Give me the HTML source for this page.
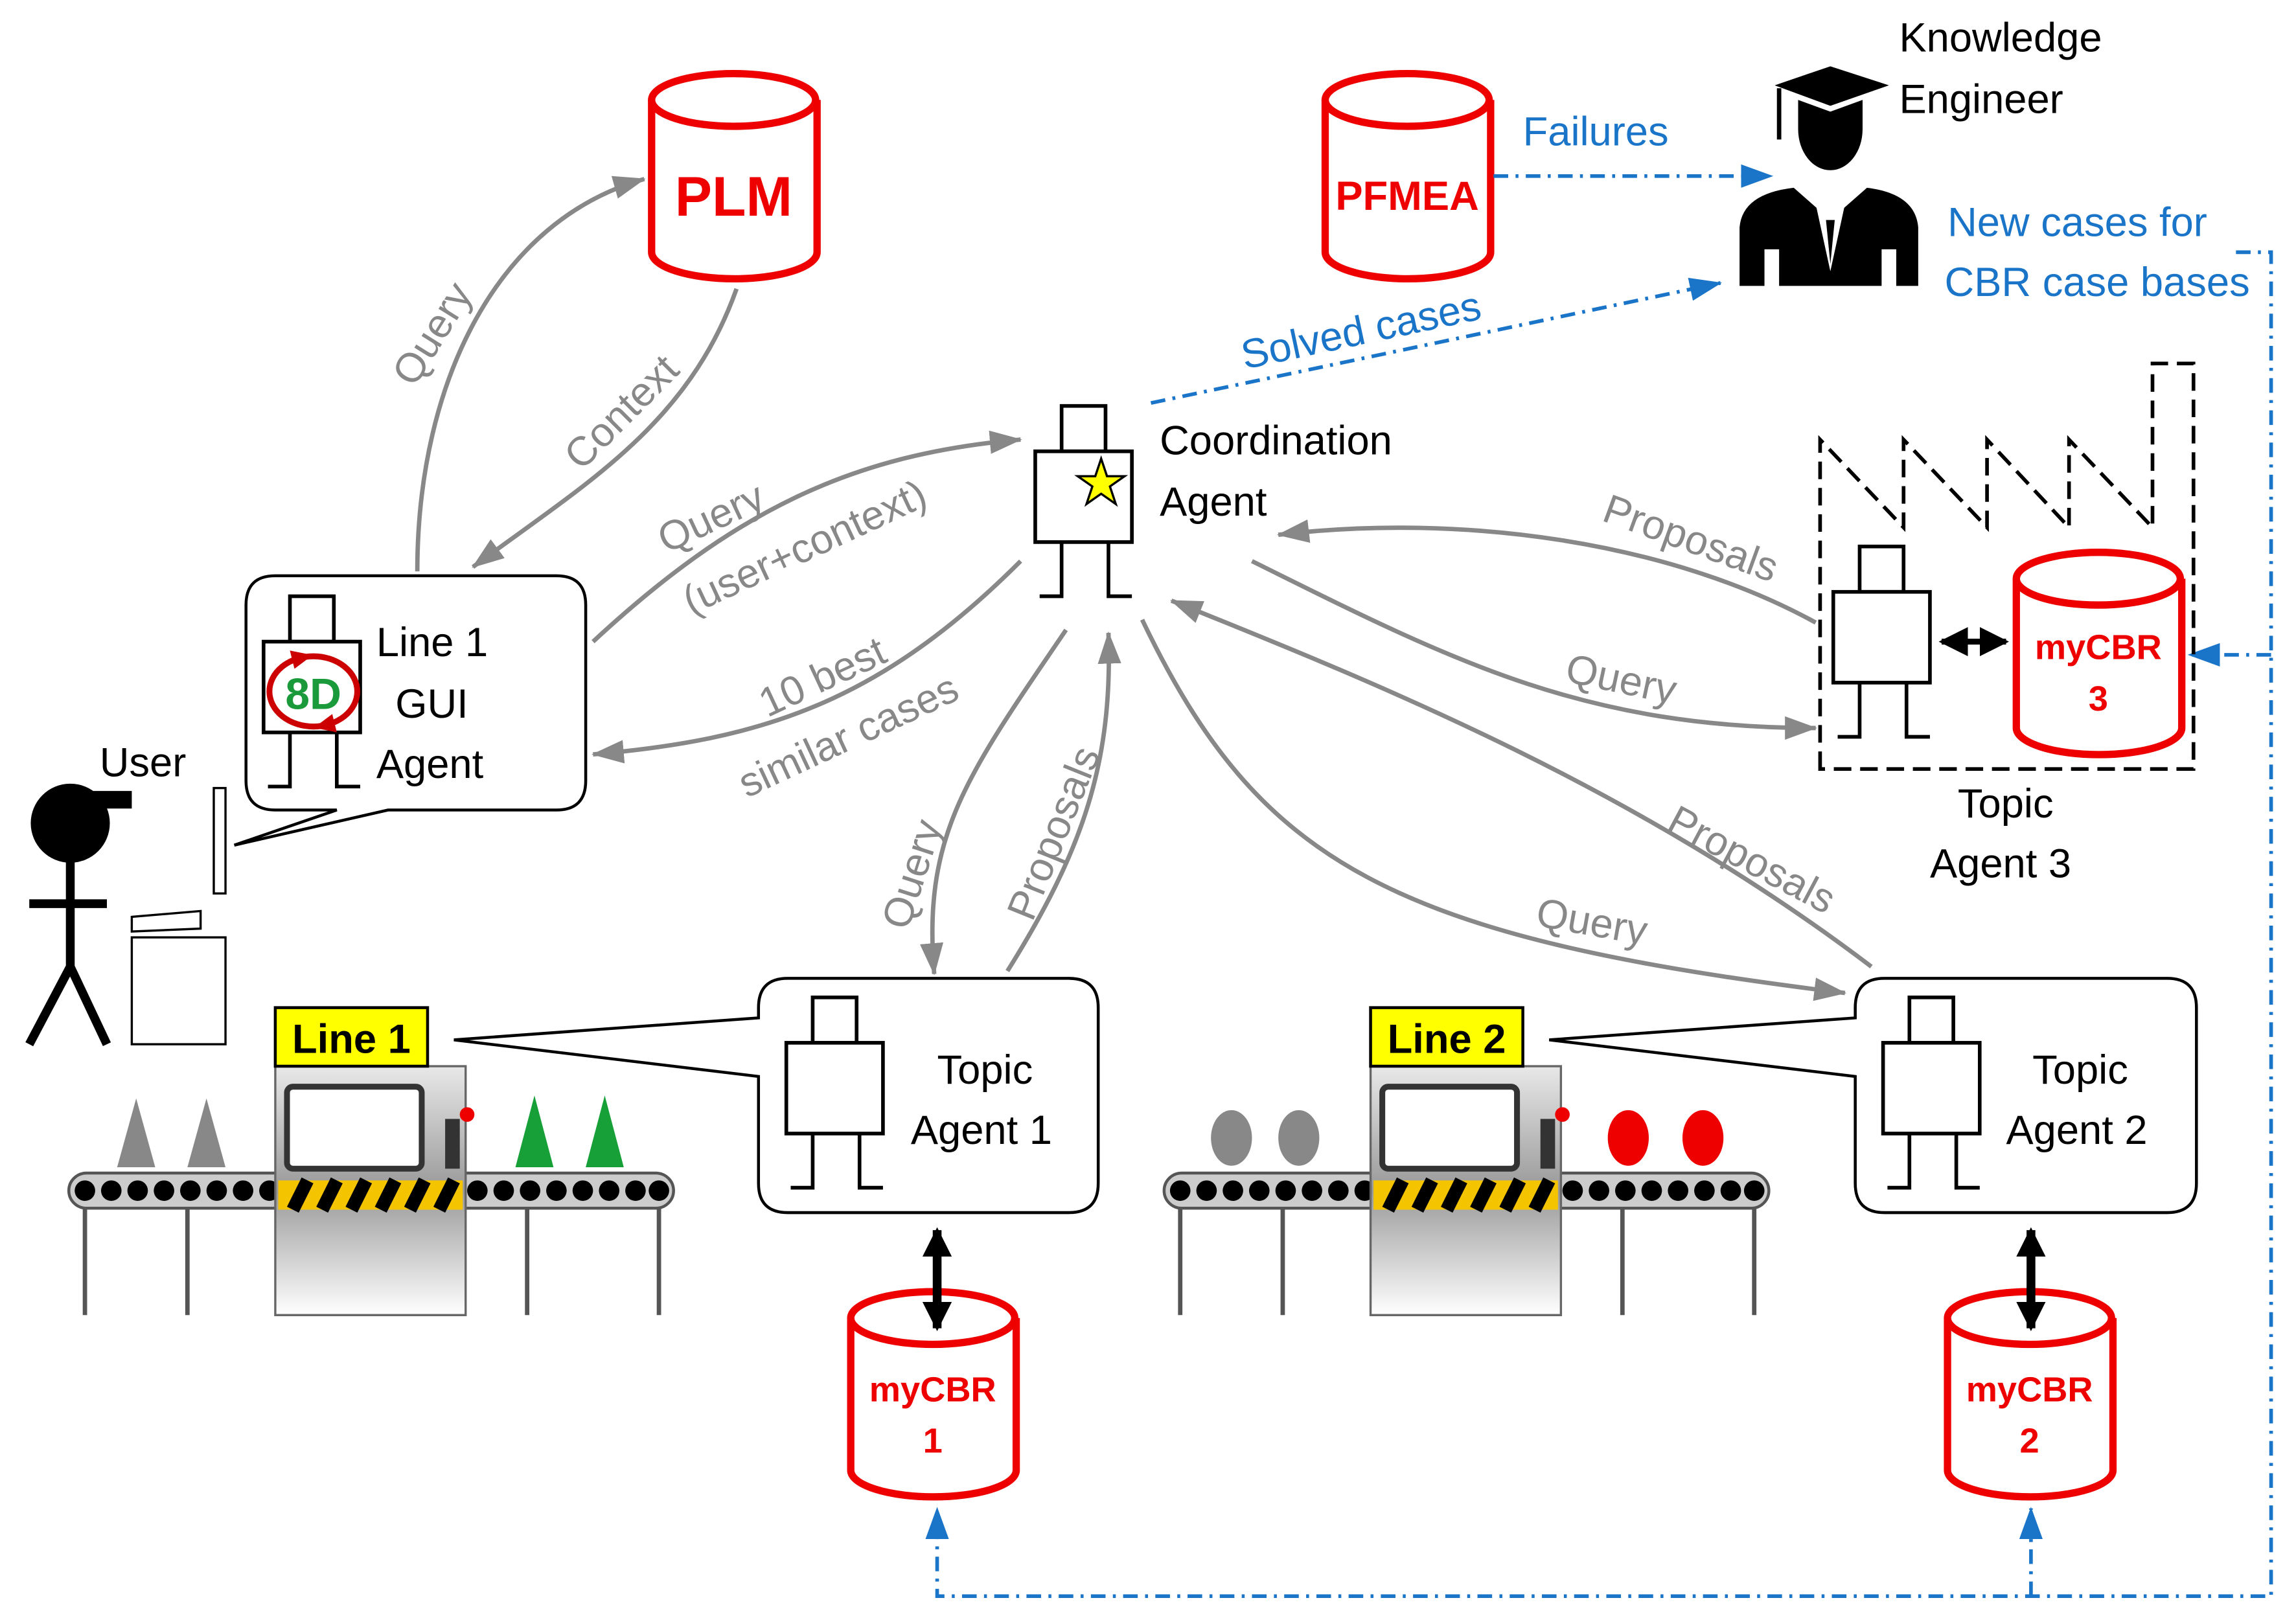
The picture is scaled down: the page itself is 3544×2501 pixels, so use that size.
<!DOCTYPE html>
<html><head><meta charset="utf-8"><style>
html,body{margin:0;padding:0;background:#fff}
svg{display:block}
text{font-family:"Liberation Sans",sans-serif}
</style></head><body>
<svg width="3544" height="2501" viewBox="0 0 1568 1106" xmlns="http://www.w3.org/2000/svg">
<defs>
<marker id="agb" markerWidth="22" markerHeight="16" refX="21" refY="8" orient="auto" markerUnits="userSpaceOnUse" viewBox="0 0 22 16"><path d="M0,0L22,8L0,16z" fill="#888"/></marker>
<marker id="ab" markerWidth="22" markerHeight="16" refX="21" refY="8" orient="auto" markerUnits="userSpaceOnUse" viewBox="0 0 22 16"><path d="M0,0L22,8L0,16z" fill="#1a75c9"/></marker>
<marker id="ak" markerWidth="20" markerHeight="20" refX="18" refY="10" orient="auto" markerUnits="userSpaceOnUse" viewBox="0 0 20 20"><path d="M0,0L20,10L0,20z" fill="#000"/></marker>
<marker id="akr" markerWidth="20" markerHeight="20" refX="2" refY="10" orient="auto" markerUnits="userSpaceOnUse" viewBox="0 0 20 20"><path d="M20,0L0,10L20,20z" fill="#000"/></marker>
<linearGradient id="mg" x1="0" y1="0" x2="0" y2="1"><stop offset="0" stop-color="#e8e8e8"/><stop offset="0.5" stop-color="#999"/><stop offset="1" stop-color="#fff"/></linearGradient>
<g id="robot" fill="#fff" stroke="#000" stroke-width="2.5">
<rect x="18" y="0" width="30" height="31"/><rect x="0" y="31" width="66" height="62"/>
<path d="M18,93V130H3M50,93V130H66" fill="none"/>
</g>
<g id="conv">
<rect x="0" y="0" width="413" height="24" rx="12" fill="#ccc" stroke="#555" stroke-width="2"/>
</g>
</defs>

<g fill="#fff" stroke="#e00" stroke-width="5">
<path d="M445,68V172A56,18 0 0 0 558,172V68"/><ellipse cx="501" cy="68" rx="56" ry="18"/>
<path d="M905,68V172A56,18 0 0 0 1018,172V68"/><ellipse cx="961" cy="68" rx="56" ry="18"/>
<path d="M1377,395V497A56,18 0 0 0 1490,497V395"/><ellipse cx="1433" cy="395" rx="56" ry="18"/>
<path d="M581,900V1004A56,18 0 0 0 694,1004V900"/><ellipse cx="637" cy="900" rx="56" ry="18"/>
<path d="M1330,900V1004A56,18 0 0 0 1443,1004V900"/><ellipse cx="1386" cy="900" rx="56" ry="18"/>
</g>
<g fill="#e00" font-weight="bold" text-anchor="middle">
<text x="501" y="147" font-size="38">PLM</text>
<text x="961" y="143" font-size="28">PFMEA</text>
<text x="1433" y="450" font-size="24">myCBR</text><text x="1433" y="485" font-size="24">3</text>
<text x="637" y="957" font-size="24">myCBR</text><text x="637" y="992" font-size="24">1</text>
<text x="1386" y="957" font-size="24">myCBR</text><text x="1386" y="992" font-size="24">2</text>
</g>

<g fill="#000">
<path d="M1212,58L1250,45L1290,58L1250,72z"/><path d="M1215,60V95" stroke="#000" stroke-width="3"/>
<path d="M1228,68V88A22,28 0 0 0 1272,88V68L1250,76z"/>
<path d="M1188,195V155Q1190,132 1225,128L1250,150L1275,128Q1308,132 1310,155V195H1295V170H1285V195H1215V170H1205V195z"/>
</g>
<path d="M1238,130L1250,185L1262,130" fill="#fff"/>
<path d="M1247,150L1250,180L1253,150z" fill="#000"/>
<text x="1297" y="35" font-size="28">Knowledge</text>
<text x="1297" y="77" font-size="28">Engineer</text>

<g fill="#1a75c9" font-size="28">
<text x="1040" y="99">Failures</text>
<text x="1330" y="161">New cases for</text>
<text x="1328" y="202">CBR case bases</text>
<text x="850" y="252" transform="rotate(-12 850 252)">Solved cases</text>
</g>
<g fill="none" stroke="#1a75c9" stroke-width="2.5" stroke-dasharray="10,5,2,5">
<path d="M1020,120H1210" marker-end="url(#ab)"/>
<path d="M786,275L1175,193" marker-end="url(#ab)"/>
<path d="M1527,172H1551V1090H640V1030" marker-end="url(#ab)"/>
<path d="M1387,1090V1030" marker-end="url(#ab)"/>
<path d="M1551,447H1495" marker-end="url(#ab)"/>
</g>

<path d="M1243,525V300L1300,360V300L1357,360V300L1413,360V300L1470,360V248H1498V525z" fill="none" stroke="#000" stroke-width="2.5" stroke-dasharray="12,6"/>

<use href="#robot" x="707" y="277"/>
<path d="M752,313L756,325L768,325L758,332L762,344L752,337L742,344L746,332L736,325L748,325z" fill="#ff0" stroke="#000" stroke-width="1.5"/>
<text x="792" y="310" font-size="28">Coordination</text>
<text x="792" y="352" font-size="28">Agent</text>
<use href="#robot" x="1252" y="373"/>
<path d="M1326,438H1370" stroke="#000" stroke-width="4" marker-end="url(#ak)" marker-start="url(#akr)"/>
<text x="1337" y="558" font-size="28">Topic</text>
<text x="1318" y="599" font-size="28">Agent 3</text>

<g fill="#fff" stroke="#000" stroke-width="2">
<path d="M188,393H380Q400,393 400,413V533Q400,553 380,553H265L160,577L230,553H188Q168,553 168,533V413Q168,393 188,393z"/>
<path d="M538,668H730Q750,668 750,688V808Q750,828 730,828H538Q518,828 518,808V735L310,710L518,695V688Q518,668 538,668z"/>
<path d="M1287,668H1480Q1500,668 1500,688V808Q1500,828 1480,828H1287Q1267,828 1267,808V735L1058,710L1267,695V688Q1267,668 1287,668z"/>
</g>
<use href="#robot" x="180" y="407"/>
<ellipse cx="214" cy="472" rx="30" ry="24" fill="none" stroke="#c00" stroke-width="4"/>
<path d="M200,446L210,448L202,454z M228,498L218,496L226,490z" fill="#c00" stroke="#c00" stroke-width="3"/>
<text x="214" y="484" font-size="30" font-weight="bold" fill="#1a9a3a" text-anchor="middle">8D</text>
<text x="257" y="448" font-size="28">Line 1</text>
<text x="270" y="490" font-size="28">GUI</text>
<text x="257" y="531" font-size="28">Agent</text>
<use href="#robot" x="537" y="681"/>
<text x="640" y="740" font-size="28">Topic</text>
<text x="622" y="781" font-size="28">Agent 1</text>
<use href="#robot" x="1286" y="681"/>
<text x="1388" y="740" font-size="28">Topic</text>
<text x="1370" y="781" font-size="28">Agent 2</text>

<path d="M640,840V907" stroke="#000" stroke-width="6" marker-end="url(#ak)" marker-start="url(#akr)"/>
<path d="M1387,840V907" stroke="#000" stroke-width="6" marker-end="url(#ak)" marker-start="url(#akr)"/>

<circle cx="48" cy="562" r="27" fill="#000"/>
<path d="M48,540H90V552H60z" fill="#000"/>
<path d="M48,585V660M20,617H73M48,660L20,713M48,660L73,713" stroke="#000" stroke-width="6" fill="none"/>
<text x="68" y="530" font-size="28">User</text>
<rect x="146" y="538" width="8" height="72" fill="#fff" stroke="#000" stroke-width="1.5"/>
<path d="M90,626L137,622V634L90,636z" fill="#fff" stroke="#000" stroke-width="1.5"/>
<rect x="90" y="640" width="64" height="73" fill="#fff" stroke="#000" stroke-width="1.5"/>

<g>
<path d="M58,825V898M128,825V898M360,825V898M450,825V898" stroke="#555" stroke-width="3"/>
<use href="#conv" x="47" y="801"/>
<g fill="#000"><circle cx="58" cy="813" r="7"/><circle cx="76" cy="813" r="7"/><circle cx="94" cy="813" r="7"/><circle cx="112" cy="813" r="7"/><circle cx="130" cy="813" r="7"/><circle cx="148" cy="813" r="7"/><circle cx="166" cy="813" r="7"/><circle cx="184" cy="813" r="7"/><circle cx="326" cy="813" r="7"/><circle cx="344" cy="813" r="7"/><circle cx="362" cy="813" r="7"/><circle cx="380" cy="813" r="7"/><circle cx="398" cy="813" r="7"/><circle cx="416" cy="813" r="7"/><circle cx="434" cy="813" r="7"/><circle cx="450" cy="813" r="7"/></g>
<rect x="188" y="728" width="130" height="170" fill="url(#mg)" stroke="#666" stroke-width="1.5"/>
<rect x="196" y="742" width="92" height="56" rx="4" fill="#fff" stroke="#333" stroke-width="4"/>
<rect x="190" y="806" width="126" height="20" fill="#f5c400"/>
<path d="M200,826L210,806M220,826L230,806M240,826L250,806M260,826L270,806M280,826L290,806M300,826L310,806" stroke="#000" stroke-width="9"/>
<rect x="304" y="764" width="10" height="34" fill="#333"/><circle cx="319" cy="761" r="5" fill="#e00"/>
<rect x="188" y="688" width="104" height="40" fill="#ff0" stroke="#000" stroke-width="2"/>
<text x="240" y="719" font-size="28" font-weight="bold" text-anchor="middle">Line 1</text>
</g>
<path d="M80,797L93,750L106,797zM128,797L141,750L154,797z" fill="#888"/>
<path d="M352,797L365,748L378,797zM400,797L413,748L426,797z" fill="#18a038"/>
<g transform="translate(748,0)">
<path d="M58,825V898M128,825V898M360,825V898M450,825V898" stroke="#555" stroke-width="3"/>
<use href="#conv" x="47" y="801"/>
<g fill="#000"><circle cx="58" cy="813" r="7"/><circle cx="76" cy="813" r="7"/><circle cx="94" cy="813" r="7"/><circle cx="112" cy="813" r="7"/><circle cx="130" cy="813" r="7"/><circle cx="148" cy="813" r="7"/><circle cx="166" cy="813" r="7"/><circle cx="184" cy="813" r="7"/><circle cx="326" cy="813" r="7"/><circle cx="344" cy="813" r="7"/><circle cx="362" cy="813" r="7"/><circle cx="380" cy="813" r="7"/><circle cx="398" cy="813" r="7"/><circle cx="416" cy="813" r="7"/><circle cx="434" cy="813" r="7"/><circle cx="450" cy="813" r="7"/></g>
<rect x="188" y="728" width="130" height="170" fill="url(#mg)" stroke="#666" stroke-width="1.5"/>
<rect x="196" y="742" width="92" height="56" rx="4" fill="#fff" stroke="#333" stroke-width="4"/>
<rect x="190" y="806" width="126" height="20" fill="#f5c400"/>
<path d="M200,826L210,806M220,826L230,806M240,826L250,806M260,826L270,806M280,826L290,806M300,826L310,806" stroke="#000" stroke-width="9"/>
<rect x="304" y="764" width="10" height="34" fill="#333"/><circle cx="319" cy="761" r="5" fill="#e00"/>
<rect x="188" y="688" width="104" height="40" fill="#ff0" stroke="#000" stroke-width="2"/>
<text x="240" y="719" font-size="28" font-weight="bold" text-anchor="middle">Line 2</text>
<ellipse cx="93" cy="777" rx="14" ry="19" fill="#888"/><ellipse cx="139" cy="777" rx="14" ry="19" fill="#888"/>
<ellipse cx="364" cy="777" rx="14" ry="19" fill="#e00"/><ellipse cx="415" cy="777" rx="14" ry="19" fill="#e00"/>
</g>

<g fill="none" stroke="#888" stroke-width="3">
<path d="M285,390C285,260 340,150 440,122" marker-end="url(#agb)"/>
<path d="M503,197C470,290 400,330 323,387" marker-end="url(#agb)"/>
<path d="M405,438C500,350 580,310 697,300" marker-end="url(#agb)"/>
<path d="M697,383C600,480 520,505 405,515" marker-end="url(#agb)"/>
<path d="M728,430C660,530 630,570 638,665" marker-end="url(#agb)"/>
<path d="M688,663C740,580 760,520 757,432" marker-end="url(#agb)"/>
<path d="M780,423C860,590 950,640 1260,678" marker-end="url(#agb)"/>
<path d="M1278,660C1120,540 950,470 800,410" marker-end="url(#agb)"/>
<path d="M1240,425C1140,370 1000,350 873,365" marker-end="url(#agb)"/>
<path d="M855,383C990,450 1080,497 1240,497" marker-end="url(#agb)"/>
</g>
<g fill="#888" font-size="28">
<text transform="translate(283,265) rotate(-58)">Query</text>
<text transform="translate(397,322) rotate(-45)">Context</text>
<text transform="translate(455,378) rotate(-25)">Query</text>
<text transform="translate(472,420) rotate(-25)">(user+context)</text>
<text transform="translate(524,490) rotate(-25)">10 best</text>
<text transform="translate(510,545) rotate(-25)">similar cases</text>
<text transform="translate(620,636) rotate(-72)">Query</text>
<text transform="translate(705,630) rotate(-68)">Proposals</text>
<text transform="translate(1048,632) rotate(10)">Query</text>
<text transform="translate(1137,566) rotate(28)">Proposals</text>
<text transform="translate(1093,355) rotate(20)">Proposals</text>
<text transform="translate(1068,465) rotate(12)">Query</text>
</g>
</svg>
</body></html>
